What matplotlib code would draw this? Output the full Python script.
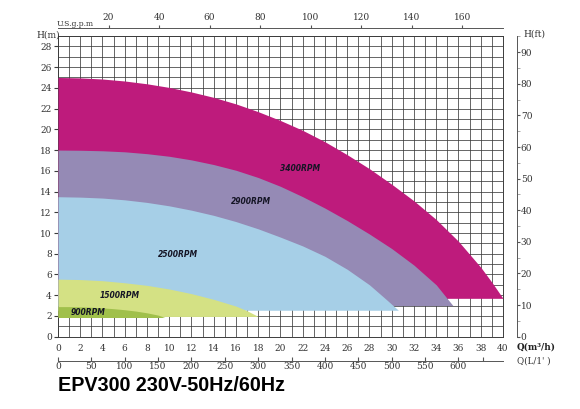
import matplotlib
matplotlib.use('Agg')
import matplotlib.pyplot as plt
import numpy as np
from matplotlib.ticker import MultipleLocator

# pump curves: flow Q (m3/h) vs head H (m)
q_3400 = [0, 2, 4, 6, 8, 10, 12, 14, 16, 18, 20, 22, 24, 26, 28, 30, 32, 34, 36, 38, 39, 40]
h_3400 = [25.0, 24.96, 24.85, 24.66, 24.39, 24.04, 23.6, 23.08, 22.45, 21.7, 20.85,
          19.9, 18.8, 17.55, 16.2, 14.7, 13.1, 11.3, 9.2, 6.7, 5.25, 3.7]
base_3400 = 3.7

q_2900 = [0, 2, 4, 6, 8, 10, 12, 14, 16, 18, 20, 22, 24, 26, 28, 30, 32, 34, 35.5]
h_2900 = [18.0, 17.98, 17.93, 17.83, 17.65, 17.4, 17.05, 16.6, 16.05, 15.35, 14.5,
          13.5, 12.4, 11.2, 9.9, 8.5, 6.9, 5.0, 3.0]
base_2900 = 3.0

q_2500 = [0, 2, 4, 6, 8, 10, 12, 14, 16, 18, 20, 22, 24, 26, 28, 29.5, 30.6]
h_2500 = [13.5, 13.46, 13.37, 13.2, 12.95, 12.62, 12.2, 11.7, 11.1, 10.4, 9.6,
          8.75, 7.75, 6.5, 5.0, 3.6, 2.55]
base_2500 = 2.55

q_1500 = [0, 2, 4, 6, 8, 10, 12, 14, 16, 17, 18]
h_1500 = [5.55, 5.51, 5.4, 5.2, 4.95, 4.6, 4.15, 3.6, 2.95, 2.5, 1.95]
base_1500 = 1.95

q_900 = [0, 1, 2, 3, 4, 5, 6, 7, 8, 9, 9.6]
h_900 = [2.9, 2.9, 2.88, 2.84, 2.78, 2.7, 2.6, 2.47, 2.3, 2.08, 1.85]
base_900 = 1.85

rpm_labels = ['3400RPM', '2900RPM', '2500RPM', '1500RPM', '900RPM']

q_ticks = list(range(0, 41, 2))
h_ticks = list(range(0, 29, 2))
gpm_ticks = [20, 40, 60, 80, 100, 120, 140, 160]
lmin_ticks = [0, 50, 100, 150, 200, 250, 300, 350, 400, 450, 500, 550, 600, 636]
lmin_labels = ['0', '50', '100', '150', '200', '250', '300', '350', '400',
               '450', '500', '550', '600', '']
ft_ticks = list(range(0, 91, 10))
ft_minor = [5, 15, 25, 35, 45, 55, 65, 75, 85, 29 * 3.28084]

title = 'EPV300 230V-50Hz/60Hz'

# styles
colors = ['#BE1B7C', '#958AB5', '#A6CFE7', '#D4E184', '#A0C04B']
label_pos = [(21.75, 16.2), (17.35, 13.0), (10.8, 7.95), (5.55, 3.95), (2.7, 2.3)]
grid_color = '#3c3c3c'
text_color = '#333333'
tick_font = 'DejaVu Serif'
tick_size = 6.5

fig = plt.figure(figsize=(5.8, 4.09), dpi=100)
ax = fig.add_axes([0.1, 0.1768, 0.7672, 0.7352])

ax.set_xlim(0, 40)
ax.set_ylim(0, 29)

curves = [(q_3400, h_3400, base_3400),
          (q_2900, h_2900, base_2900),
          (q_2500, h_2500, base_2500),
          (q_1500, h_1500, base_1500),
          (q_900, h_900, base_900)]

for (q, h, base), c, lab, (lx, ly) in zip(curves, colors, rpm_labels, label_pos):
    ax.fill_between(q, base, h, color=c, lw=0, zorder=3)
    ax.text(lx, ly, lab, fontsize=5.5, fontstyle='italic', fontweight='bold',
            family='DejaVu Sans', color='#151525', ha='center', va='center', zorder=5)

# grid every 1 unit
ax.xaxis.set_minor_locator(MultipleLocator(1))
ax.yaxis.set_minor_locator(MultipleLocator(1))
ax.grid(which='both', color=grid_color, lw=0.55)
ax.set_axisbelow(True)
for s in ax.spines.values():
    s.set_color(grid_color)
    s.set_linewidth(0.7)

ax.set_xticks(q_ticks)
ax.set_yticks(h_ticks)
ax.tick_params(which='minor', length=0)
ax.tick_params(axis='x', which='major', length=0, pad=5.5,
               labelsize=tick_size, labelcolor=text_color)
ax.tick_params(axis='y', which='major', length=3, pad=1.5, color=grid_color,
               labelsize=tick_size, labelcolor=text_color)
for lbl in ax.get_xticklabels() + ax.get_yticklabels():
    lbl.set_family(tick_font)

# top axis: US gpm
gpm_ax = ax.secondary_xaxis(1.0256, functions=(lambda q: q * 4.402868,
                                               lambda g: g / 4.402868))
gpm_ax.set_xticks(gpm_ticks)
gpm_ax.tick_params(direction='out', length=2.5, pad=2, color='#555555',
                   labelsize=tick_size, labelcolor=text_color)
gpm_ax.spines['top'].set_color('#555555')
gpm_ax.spines['top'].set_linewidth(0.7)
for lbl in gpm_ax.get_xticklabels():
    lbl.set_family(tick_font)

# bottom axis: L/min
lmin_ax = ax.secondary_xaxis(-0.0798, functions=(lambda q: q * 1000 / 60,
                                                  lambda l: l * 60 / 1000))
lmin_ax.set_xticks(lmin_ticks)
lmin_ax.set_xticklabels(lmin_labels)
lmin_ax.tick_params(direction='in', length=3, pad=1, color='#555555',
                    labelsize=tick_size, labelcolor=text_color)
lmin_ax.spines['bottom'].set_color('#555555')
lmin_ax.spines['bottom'].set_linewidth(0.7)
for lbl in lmin_ax.get_xticklabels():
    lbl.set_family(tick_font)

# right axis: H in ft
ft_ax = ax.secondary_yaxis(1.0308, functions=(lambda m: m * 3.28084,
                                              lambda f: f / 3.28084))
ft_ax.set_yticks(ft_ticks)
ft_ax.set_yticks(ft_minor, minor=True)
ft_ax.tick_params(which='major', direction='out', length=2.5, pad=0.5,
                  color='#555555', labelsize=tick_size, labelcolor=text_color)
ft_ax.tick_params(which='minor', direction='out', length=2.5, color='#999999')
ft_ax.spines['right'].set_color('#555555')
ft_ax.spines['right'].set_linewidth(0.7)
for lbl in ft_ax.get_yticklabels():
    lbl.set_family(tick_font)

# axis captions
fig.text(36 / 580, 1 - 35 / 409, 'H(m)', fontsize=tick_size, family=tick_font,
         color=text_color, va='center')
fig.text(57 / 580, 1 - 24 / 409, 'U.S.g.p.m', fontsize=5.5, family=tick_font,
         color=text_color, va='center')
fig.text(523 / 580, 1 - 34 / 409, 'H(ft)', fontsize=tick_size, family=tick_font,
         color=text_color, va='center')
fig.text(517 / 580, 1 - 347.5 / 409, 'Q(m³/h)', fontsize=6.3, family=tick_font,
         color='#222222', fontweight='bold', va='center')
fig.text(517 / 580, 1 - 361 / 409, "Q(L/1' )", fontsize=6.3, family=tick_font,
         color=text_color, va='center')

fig.text(0.1, 1 - 390.7 / 409, title, fontsize=14.2, fontweight='bold',
         family='Liberation Sans', color='black', va='baseline')

fig.savefig('out.png', dpi=100)
